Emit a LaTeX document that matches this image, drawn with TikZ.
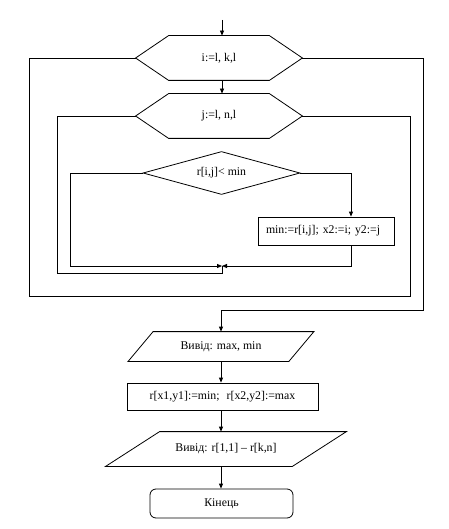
\documentclass[tikz,border=0pt]{standalone}
\usepackage{fontspec}
\setmainfont{Liberation Serif}
\usetikzlibrary{arrows.meta, shapes.geometric}
\begin{document}
\begin{tikzpicture}[x = 1pt, y = -1pt, line width = .8pt,
    font = \fontsize{11.8}{14}\selectfont,
    arr/.style = {-{Triangle[length = 5pt, width = 4pt]}},
    blk/.style 2 args = {inner sep = 0, minimum width = #1, minimum height = #2}]
  \useasboundingbox (0,0) rectangle (448,529);
  \coordinate (s) at (222,20);
  \coordinate (m) at (222,266);
  \node [blk = {166}{44}] (i) at (219,58) {i:=l, k,l};
  \node [blk = {166}{44}] (j) at (219,116) {j:=l, n,l};
  \node [draw, diamond, aspect = 3.6, inner sep = 0, minimum width = 157, minimum height = 43]
    (c) at (221.5,173) {r[i,j]< min};
  \node [draw, blk = {136}{28}, text width = 120, align = left] (b) at (326,231)
    {min:=r[i,j]; x2:=i; y2:=j};
  \node [blk = {160}{29}] (p1) at (221,346.5) {Вивід: max, min};
  \node [draw, blk = {191}{27}] (r) at (222.5,396.5) {r[x1,y1]:=min;\hspace{.6em}r[x2,y2]:=max};
  \node [blk = {186}{34}] (p2) at (226,449) {Вивід: r[1,1] – r[k,n]};
  \node [draw, rounded corners = 6pt, blk = {143}{29}] (e) at (221.5,503.5) {Кінець};
  \foreach \n in {i, j}
    \draw ([xshift = 33pt]\n.north west) -- ([xshift = -33pt]\n.north east) -- (\n.east)
      -- ([xshift = -33pt]\n.south east) -- ([xshift = 33pt]\n.south west) -- (\n.west) -- cycle;
  \foreach \n/\s in {p1/12.5, p2/27}
    \draw ([xshift = \s pt]\n.north west) -- ([xshift = \s pt]\n.north east)
      -- ([xshift = -\s pt]\n.south east) -- ([xshift = -\s pt]\n.south west) -- cycle;
  \draw [arr] (s) -- (s |- i.north);
  \draw [arr] (s |- i.south) -- (s |- j.north);
  \draw [arr] (c.west) -- ++(-72,0) |- (m);
  \draw [arr] (c.east) -| ([xshift = 25pt]b.north);
  \draw [arr] ([xshift = 25pt]b.south) |- (m);
  \draw (m) -- ++(0,7) -- ++(-165,0) |- (j.west);
  \draw (j.east) -- ++(108,0) -- ++(0,180) -- ++(-381,0) |- (i.west);
  \draw [arr] (i.east) -- ++(121,0) -- ++(0,252) -| (p1.north);
  \draw [arr] (p1.south) -- (p1.south |- r.north);
  \draw [arr] (p1.south |- r.south) -- (p1.south |- p2.north);
  \draw [arr] (p1.south |- p2.south) -- (p1.south |- e.north);
\end{tikzpicture}
\end{document}
